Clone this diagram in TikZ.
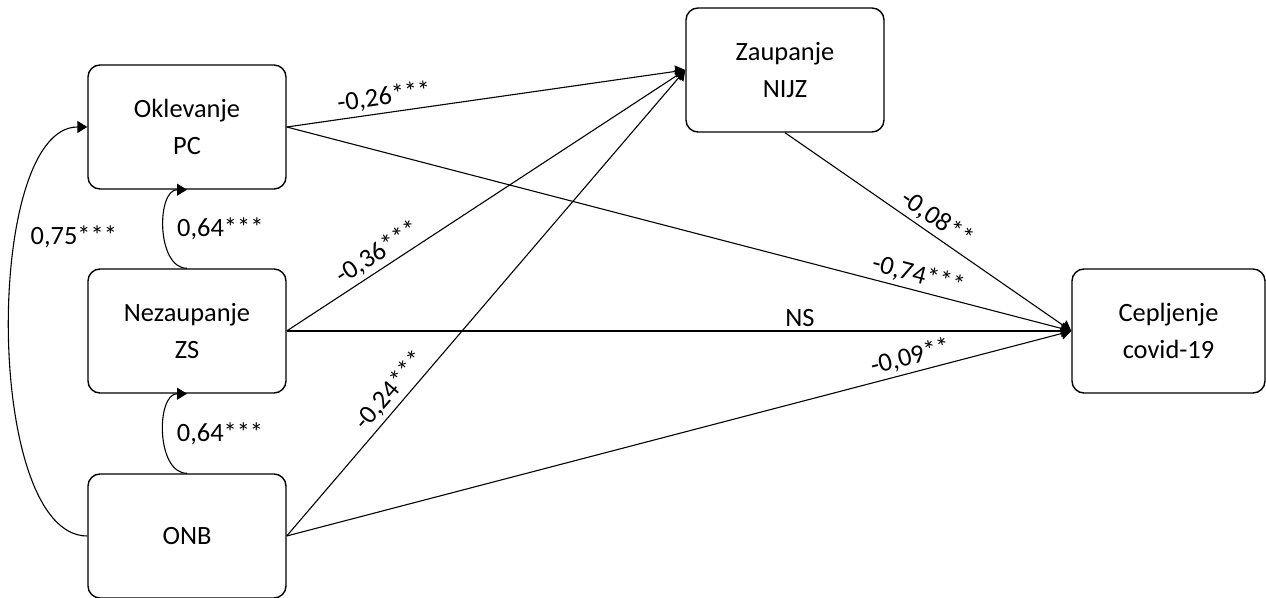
\documentclass[tikz,border=0pt]{standalone}
\usepackage{fontspec}
\setmainfont{Carlito}
\usetikzlibrary{arrows.meta,positioning}

\begin{document}
\begin{tikzpicture}[>={Triangle[length=5pt,width=6pt]}, x=0.5pt, y=-0.5pt,
  box/.style={draw, line width=0.7pt, rounded corners=6pt, minimum width=99pt,
    minimum height=62pt, align=center, font=\fontsize{13.2}{18.5}\selectfont},
  link/.style={->, line width=0.55pt},
  corr/.style={anchor=west, font=\fontsize{13.2}{16}\selectfont, xshift=3pt},
  coef/.style={font=\fontsize{13.2}{16}\selectfont, sloped, above, inner sep=2pt}]
  \useasboundingbox (0,0) rectangle (1266,598);

  % Draw the boxes
  \node[box] (pc) at (187,127) {Oklevanje\\PC};
  \node[box] (zs) at (187,331) {Nezaupanje\\ZS};
  \node[box] (onb) at (187,536) {ONB};
  \node[box] (nijz) at (785,70) {Zaupanje\\NIJZ};
  \node[box, minimum width=96.5pt] (cep) at (1168.5,331) {Cepljenje\\covid-19};

  % Correlations on the left
  \draw[link] (zs.north) to[out=180, in=180]
    node[corr, pos=.5] {0,64***} (pc.south);
  \draw[link] (onb.north) to[out=180, in=180]
    node[corr, pos=.5] {0,64***} (zs.south);
  \draw[link] (onb.west) to[out=180, in=180, looseness=0.65]
    node[corr, pos=.66] {0,75***} (pc.west);

  % Paths to Zaupanje NIJZ
  \draw[link] (pc.east) -- node[coef, pos=.25] {-0,26***} (nijz.west);
  \draw[link] (zs.east) -- node[coef, pos=.25] {-0,36***} (nijz.west);
  \draw[link] (onb.east) -- node[coef, pos=.29] {-0,24***} (nijz.west);

  % Paths to Cepljenje covid-19
  \draw[link] (pc.east) -- node[coef, pos=.8] {-0,74***} (cep.west);
  \draw[link] (zs.east) -- node[coef, pos=.654] {NS} (cep.west);
  \draw[link] (onb.east) -- node[coef, pos=.8] {-0,09**} (cep.west);
  \draw[link] (nijz.south) -- node[coef, pos=.5] {-0,08**} (cep.west);
\end{tikzpicture}
\end{document}
